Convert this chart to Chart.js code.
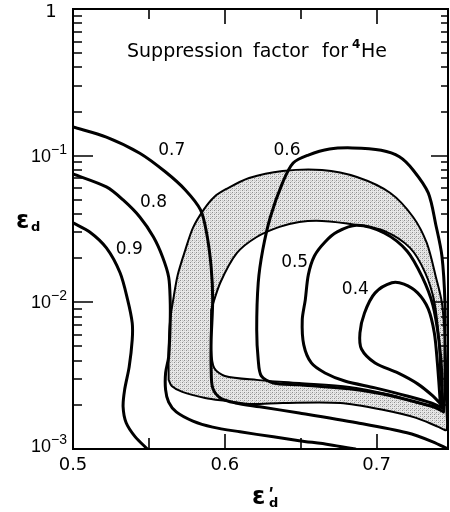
<!DOCTYPE html>
<html>
<head>
<meta charset="utf-8">
<script src="https://cdn.jsdelivr.net/npm/chart.js@4/dist/chart.umd.min.js"></script>
<style>
  html, body { margin: 0; padding: 0; background: #fff; }
  canvas { display: block; }
</style>
</head>
<body>
<canvas id="c" width="450" height="512" style="width:450px;height:512px"></canvas>
<script>
// Contours of the 4He suppression factor in the (eps'_d, eps_d) plane.
// Each series is a list of [eps'_d, eps_d] points along one contour.
const contour09 = [[0.500,0.0348],[0.511,0.0302],[0.522,0.0235],[0.531,0.0159],[0.536,0.0104],[0.539,0.00724],[0.539,0.00554],[0.537,0.00363],[0.534,0.00253],[0.533,0.00194],[0.535,0.00151],[0.541,0.00121],[0.549,0.00100]];
const contour08 = [[0.500,0.0750],[0.522,0.0612],[0.533,0.0499],[0.544,0.0382],[0.553,0.0279],[0.559,0.0204],[0.563,0.0149],[0.564,0.0104],[0.564,0.00724],[0.563,0.00425],[0.561,0.00330],[0.561,0.00253],[0.563,0.00209],[0.568,0.00179],[0.579,0.00155],[0.592,0.00141],[0.610,0.00131],[0.632,0.00121],[0.649,0.00114],[0.669,0.00107],[0.686,0.00100]];
const contour07 = [[0.500,0.157],[0.522,0.134],[0.544,0.104],[0.561,0.0774],[0.574,0.0584],[0.584,0.0427],[0.588,0.0297],[0.591,0.0174],[0.592,0.0104],[0.591,0.00554],[0.591,0.00346],[0.592,0.00261],[0.597,0.00223],[0.607,0.00206],[0.623,0.00194],[0.649,0.00176],[0.687,0.00151],[0.720,0.00129],[0.737,0.00112],[0.747,0.00100]];
const contour06 = [[0.744,0.00179],[0.739,0.00191],[0.726,0.00209],[0.704,0.00237],[0.682,0.00257],[0.649,0.00274],[0.632,0.00282],[0.624,0.00315],[0.622,0.00405],[0.621,0.00649],[0.622,0.0136],[0.625,0.0228],[0.630,0.0382],[0.638,0.0652],[0.645,0.0891],[0.655,0.101],[0.669,0.111],[0.684,0.113],[0.703,0.109],[0.715,0.0983],[0.724,0.0799],[0.734,0.0557],[0.739,0.0337],[0.743,0.0207],[0.745,0.00991],[0.745,0.00474],[0.745,0.00245],[0.744,0.00179]];
const contour05 = [[0.743,0.00191],[0.736,0.00206],[0.720,0.00230],[0.699,0.00261],[0.679,0.00291],[0.666,0.00330],[0.657,0.00386],[0.652,0.00513],[0.651,0.00759],[0.653,0.0104],[0.655,0.0154],[0.659,0.0207],[0.666,0.0258],[0.674,0.0302],[0.687,0.0335],[0.705,0.0297],[0.720,0.0224],[0.730,0.0149],[0.737,0.00960],[0.741,0.00554],[0.743,0.00320],[0.743,0.00191]];
const contour04 = [[0.742,0.00203],[0.737,0.00230],[0.727,0.00278],[0.714,0.00330],[0.699,0.00386],[0.690,0.00481],[0.689,0.00618],[0.692,0.00847],[0.699,0.0116],[0.710,0.0136],[0.718,0.0133],[0.727,0.0116],[0.734,0.00902],[0.738,0.00618],[0.740,0.00386],[0.742,0.00203]];

// Shaded band: outer boundary and the hole inside it.
const bandOuter = [[0.563,0.00296],[0.563,0.00474],[0.564,0.00759],[0.566,0.0104],[0.569,0.0154],[0.574,0.0228],[0.579,0.0322],[0.586,0.0427],[0.593,0.0523],[0.601,0.0593],[0.616,0.0705],[0.638,0.0787],[0.664,0.0799],[0.687,0.0716],[0.709,0.0557],[0.724,0.0382],[0.733,0.0254],[0.739,0.0149],[0.743,0.00991],[0.745,0.00554],[0.746,0.00296],[0.746,0.00185],[0.746,0.00135],[0.741,0.00141],[0.726,0.00163],[0.704,0.00185],[0.676,0.00206],[0.638,0.00206],[0.616,0.00203],[0.600,0.00213],[0.587,0.00223],[0.572,0.00245],[0.565,0.00269],[0.563,0.00296]];
const bandInner = [[0.591,0.00888],[0.597,0.0136],[0.608,0.0217],[0.621,0.0279],[0.636,0.0327],[0.649,0.0353],[0.664,0.0359],[0.687,0.0337],[0.705,0.0307],[0.722,0.0235],[0.732,0.0159],[0.738,0.0101],[0.741,0.00554],[0.742,0.00296],[0.743,0.00200],[0.730,0.00203],[0.709,0.00234],[0.682,0.00265],[0.649,0.00282],[0.621,0.00296],[0.600,0.00315],[0.593,0.00357],[0.591,0.00474],[0.591,0.00888]];

// Contour value labels and where they sit.
const labelTexts = ['0.9', '0.8', '0.7', '0.6', '0.5', '0.4'];
const labelX = [0.537, 0.553, 0.565, 0.641, 0.646, 0.686];
const labelY = [0.0228, 0.0476, 0.1077, 0.1077, 0.0188, 0.0123];

// Axis ranges and ticks.
const xRange = [0.5, 0.747];
const yRange = [0.001, 1];
const xMajorTicks = [0.5, 0.6, 0.7];
const xMinorTicks = [0.55, 0.65];
const xTickLabels = ['0.5', '0.6', '0.7'];
const yDecades = [1, 0.1, 0.01, 0.001];
const yExponents = ['', '\u22121', '\u22122', '\u22123'];
const yMinorMantissas = [2, 3, 4, 5, 6, 7, 8, 9];

const ctx = document.getElementById('c').getContext('2d');

function pts(arr) { return arr.map(([x, y]) => ({ x, y })); }

// Fine stipple used for the shaded band.
function makeStipple() {
  const tile = document.createElement('canvas');
  tile.width = 4; tile.height = 4;
  const t = tile.getContext('2d');
  t.fillStyle = '#e8e8e8'; t.fillRect(0, 0, 4, 4);
  t.fillStyle = '#8e8e8e';
  t.fillRect(0, 0, 1, 1); t.fillRect(2, 2, 1, 1);
  t.fillStyle = '#c4c4c4';
  t.fillRect(2, 0, 1, 1); t.fillRect(0, 2, 1, 1); t.fillRect(3, 1, 1, 1);
  return ctx.createPattern(tile, 'repeat');
}

const FONT = '"DejaVu Sans", "Liberation Sans", sans-serif';

const lineStyle = {
  showLine: true, pointRadius: 0, pointHoverRadius: 0,
  borderColor: '#000', tension: 0.3, fill: false,
  borderJoinStyle: 'round', borderCapStyle: 'round'
};

const axisDecor = {
  id: 'axisDecor',
  afterDatasetsDraw(chart) {
    const { ctx: g, chartArea: a, scales: { x, y } } = chart;
    g.save();
    g.strokeStyle = '#000';
    g.fillStyle = '#000';

    // inward tick marks on all four sides
    g.lineWidth = 1.6;
    g.beginPath();
    const xt = (v, lenB, lenT) => {
      const px = Math.round(x.getPixelForValue(v));
      g.moveTo(px, a.bottom); g.lineTo(px, a.bottom - lenB);
      g.moveTo(px, a.top); g.lineTo(px, a.top + lenT);
    };
    xMajorTicks.forEach(v => xt(v, 15, 15));
    xMinorTicks.forEach(v => xt(v, 11, 10));
    const yt = (v, lenL, lenR) => {
      const py = Math.round(y.getPixelForValue(v));
      g.moveTo(a.left, py); g.lineTo(a.left + lenL, py);
      g.moveTo(a.right, py); g.lineTo(a.right - lenR, py);
    };
    yDecades.forEach(v => yt(v, 20, 17));
    yDecades.slice(1).forEach(d => yMinorMantissas.forEach(m => yt(d * m, 9, 7)));
    g.stroke();

    // frame
    g.lineWidth = 2;
    g.strokeRect(a.left, a.top, a.right - a.left, a.bottom - a.top);

    // x tick labels
    g.font = '18px ' + FONT;
    g.textAlign = 'center';
    g.textBaseline = 'alphabetic';
    xMajorTicks.forEach((v, i) => g.fillText(xTickLabels[i], x.getPixelForValue(v), a.bottom + 21));

    // y tick labels: powers of ten
    yDecades.forEach((v, i) => {
      let py = y.getPixelForValue(v);
      if (i === yDecades.length - 1) py -= 3;
      if (i === 0) {
        g.font = '18px ' + FONT;
        g.textAlign = 'center'; g.textBaseline = 'middle';
        g.fillText('1', a.left - 22, py + 3);
        return;
      }
      g.font = '18px "Liberation Sans", sans-serif';
      g.textAlign = 'right'; g.textBaseline = 'middle';
      g.fillText('10', a.left - 22, py + 1);
      g.font = '14px "Liberation Sans", sans-serif';
      g.textAlign = 'left';
      g.fillText(yExponents[i], a.left - 22, py - 6);
    });

    // contour value labels
    g.font = '17px ' + FONT;
    g.textAlign = 'center'; g.textBaseline = 'middle';
    labelTexts.forEach((t, i) => g.fillText(t, x.getPixelForValue(labelX[i]), y.getPixelForValue(labelY[i])));

    // panel title
    g.font = '19px ' + FONT;
    g.textAlign = 'left'; g.textBaseline = 'alphabetic';
    const tb = a.top + 48;
    g.fillText('Suppression', a.left + 54, tb);
    g.fillText('factor', a.left + 180, tb);
    g.fillText('for', a.left + 249, tb);
    g.fillText('He', a.left + 288, tb);
    g.font = 'bold 12px ' + FONT;
    g.fillText('4', a.left + 279, tb - 9);

    // axis titles
    g.font = 'bold 24px ' + FONT;
    g.textAlign = 'left';
    g.fillText('\u03b5', a.left - 57, a.top + 219);
    g.font = 'bold 13px ' + FONT;
    g.fillText('d', a.left - 42, a.top + 222);

    g.font = 'bold 24px ' + FONT;
    g.fillText('\u03b5', a.left + 179, a.bottom + 55);
    g.font = 'italic bold 18px "Liberation Sans", sans-serif';
    g.fillText("'", a.left + 195, a.bottom + 51);
    g.font = 'bold 13px ' + FONT;
    g.fillText('d', a.left + 196, a.bottom + 58);

    g.restore();
  }
};

const stipple = makeStipple();

new Chart(ctx, {
  type: 'scatter',
  data: {
    datasets: [
      { ...lineStyle, label: '0.9', data: pts(contour09), borderWidth: 3, order: 0 },
      { ...lineStyle, label: '0.8', data: pts(contour08), borderWidth: 3, order: 0 },
      { ...lineStyle, label: '0.7', data: pts(contour07), borderWidth: 3, order: 0 },
      { ...lineStyle, label: '0.6', data: pts(contour06), borderWidth: 3, order: 0 },
      { ...lineStyle, label: '0.5', data: pts(contour05), borderWidth: 3, order: 0 },
      { ...lineStyle, label: '0.4', data: pts(contour04), borderWidth: 3, order: 0 },
      { ...lineStyle, label: 'band inner', data: pts(bandInner), borderWidth: 2, fill: 'shape', backgroundColor: '#ffffff', order: 5 },
      { ...lineStyle, label: 'band outer', data: pts(bandOuter), borderWidth: 2, fill: 'shape', backgroundColor: stipple, order: 6 }
    ]
  },
  options: {
    responsive: false,
    animation: false,
    events: [],
    layout: { padding: { left: 0, right: 2, top: 9, bottom: 0 } },
    plugins: { legend: { display: false }, tooltip: { enabled: false }, title: { display: false } },
    scales: {
      x: {
        type: 'linear', min: xRange[0], max: xRange[1],
        grid: { display: false }, border: { display: false },
        ticks: { display: false },
        afterFit(s) { s.height = 63; }
      },
      y: {
        type: 'logarithmic', min: yRange[0], max: yRange[1],
        grid: { display: false }, border: { display: false },
        ticks: { display: false },
        afterFit(s) { s.width = 73; }
      }
    }
  },
  plugins: [axisDecor]
});
</script>
</body>
</html>
